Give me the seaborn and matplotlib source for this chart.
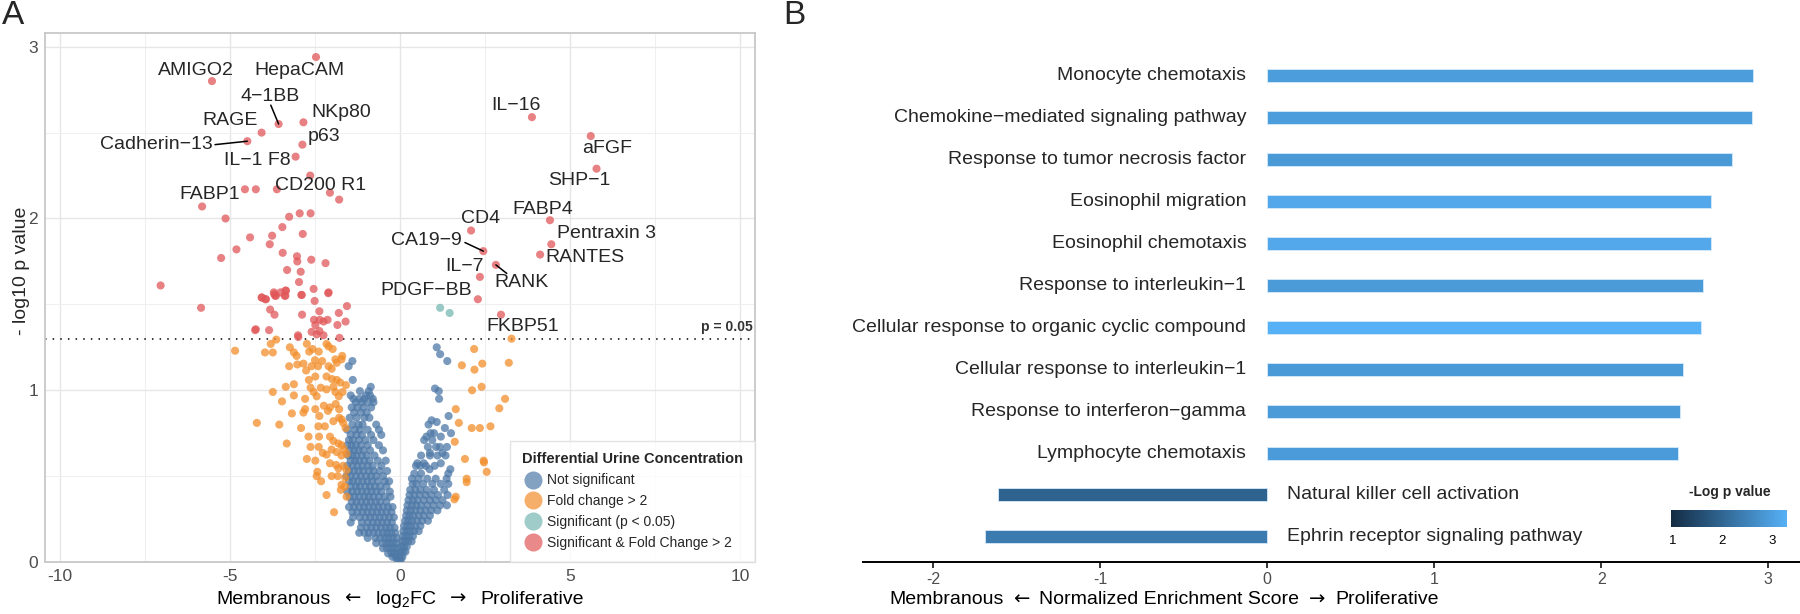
"""
 volcano + enrichment panels
"""
import numpy as np
import pandas as pd
import matplotlib
matplotlib.use("Agg")
import matplotlib.pyplot as plt
import seaborn as sns
from matplotlib.lines import Line2D
from matplotlib.colors import LinearSegmentedColormap, Normalize
from matplotlib.cm import ScalarMappable
from matplotlib.offsetbox import TextArea, HPacker, AnchoredOffsetbox

sns.set_theme(style="white")
plt.rcParams['font.family'] = ['Liberation Sans', 'DejaVu Sans']
plt.rcParams['mathtext.fontset'] = 'custom'
plt.rcParams['mathtext.rm'] = 'Liberation Sans'
plt.rcParams['mathtext.default'] = 'regular'

# ---- panel A data (log2FC, -log10 p) ----
label_names = ['HepaCAM', 'AMIGO2', '4−1BB', 'NKp80', 'RAGE', 'Cadherin−13', 'p63',
               'IL−1 F8', 'CD200 R1', 'FABP1', 'IL−16', 'aFGF', 'SHP−1', 'FABP4',
               'CD4', 'Pentraxin 3', 'RANTES', 'CA19−9', 'RANK', 'IL−7', 'PDGF−BB', 'FKBP51']
label_fc = [-2.47, -5.53, -3.57, -2.84, -4.07, -4.49, -2.87, -3.07, -2.06, -5.82, 3.88,
            5.61, 5.78, 4.41, 2.09, 4.45, 4.12, 2.45, 2.82, 2.35, 2.29, 2.97]
label_p = [2.94, 2.80, 2.55, 2.56, 2.50, 2.45, 2.43, 2.36, 2.15, 2.07, 2.59,
           2.48, 2.29, 1.99, 1.93, 1.85, 1.79, 1.81, 1.73, 1.66, 1.53, 1.44]

red_fc = [-2.64, -4.56, -4.24, -3.62, -1.79, -5.13, -3.26, -2.95, -2.63, -3.46, -4.41,
          -3.76, -2.86, -4.81, -3.83, -5.26, -3.45, -3.03, -3.02, -2.61, -2.19, -3.32,
          -2.92, -7.04, -2.97, -2.54, -2.10, -3.71, -3.51, -3.37, -2.90, -4.06, -3.96,
          -3.67, -3.37, -5.85, -4.07, -3.94, -3.70, -3.65, -3.39, -3.35, -2.89, -2.11,
          -2.51, -3.82, -3.69, -2.88, -2.37, -1.56, -1.80, -2.53, -2.36, -2.25, -2.13,
          -2.49, -1.60, -1.84, -4.26, -4.24, -3.85, -3.00, -2.60, -2.37, -2.25, -1.78,
          -2.99, -2.45]
red_p = [2.25, 2.17, 2.17, 2.17, 2.11, 2.00, 2.01, 2.03, 2.03, 1.95, 1.89,
         1.90, 1.91, 1.82, 1.85, 1.77, 1.80, 1.78, 1.75, 1.76, 1.74, 1.70,
         1.69, 1.61, 1.63, 1.59, 1.57, 1.57, 1.57, 1.58, 1.555, 1.54, 1.53,
         1.55, 1.55, 1.48, 1.54, 1.53, 1.56, 1.55, 1.55, 1.58, 1.555, 1.565,
         1.52, 1.47, 1.44, 1.44, 1.46, 1.49, 1.45, 1.41, 1.41, 1.40, 1.41,
         1.38, 1.40, 1.38, 1.35, 1.355, 1.35, 1.32, 1.34, 1.345, 1.32, 1.305,
         1.31, 1.325]

teal_fc = [1.18, 1.46]
teal_p = [1.48, 1.45]

orange_fc = [-4.85, -3.80, -3.64, -3.97, -3.74, -3.24, -3.12, -3.04, -2.74, -2.67, -2.57,
             -2.39, -2.16, -2.10, -1.98, -3.26, -3.02, -2.84, -2.76, -2.60, -2.50, -2.41,
             -2.29, -2.10, -2.01, -1.90, -1.86, -1.70, -1.72, -2.49, -2.68, -2.16, -2.00,
             -1.86, -1.76, -1.59, -3.12, -3.36, -3.74, -2.63, -2.54, -2.33, -2.16, -1.96,
             -1.90, -1.80, -1.69, -3.12, -2.45, -3.47, -2.79, -2.24, -2.06, -1.89, -1.79,
             -3.18, -2.84, -2.79, -2.49, -2.37, -2.12, -1.96, -1.79, -1.72, -1.67, -4.21,
             -3.55, -2.91, -2.40, -2.21, -1.60, -2.69, -2.38, -2.06, -1.96, -1.81, -1.72,
             -1.65, -3.33, -2.63, -2.39, -2.27, -2.16, -2.01, -1.86, -1.72, -1.57, -2.74,
             -2.49, -2.06, -1.88, -1.81, -1.67, -1.57, -2.43, -2.45, -2.01, -1.83, -1.61,
             -2.32, -1.72, -1.74, -1.62, -2.16, -1.57, -1.94,
             3.28, 2.18, 2.42, 3.20, 1.82, 2.19, 2.40, 2.12, 3.09, 2.92, 1.64, 1.73,
             2.11, 2.35, 2.66, 1.61, 1.91, 2.46, 2.47, 2.55, 1.96, 1.96, 1.64, 1.60]
orange_p = [1.23, 1.27, 1.295, 1.22, 1.22, 1.25, 1.22, 1.20, 1.27, 1.225, 1.24,
            1.225, 1.27, 1.255, 1.24, 1.14, 1.15, 1.155, 1.115, 1.14, 1.175, 1.14,
            1.17, 1.14, 1.125, 1.18, 1.16, 1.20, 1.18, 1.08, 1.06, 1.08, 1.065,
            1.06, 1.045, 1.03, 1.035, 1.02, 0.99, 1.015, 0.99, 1.015, 1.005, 1.02,
            0.99, 0.965, 0.99, 0.97, 0.965, 0.935, 0.95, 0.91, 0.90, 0.92, 0.89,
            0.865, 0.87, 0.89, 0.89, 0.85, 0.88, 0.82, 0.84, 0.83, 0.81, 0.81,
            0.80, 0.78, 0.79, 0.79, 0.78, 0.73, 0.73, 0.73, 0.705, 0.69, 0.68,
            0.655, 0.69, 0.67, 0.67, 0.635, 0.625, 0.655, 0.64, 0.62, 0.63, 0.60,
            0.59, 0.575, 0.565, 0.545, 0.56, 0.535, 0.525, 0.50, 0.50, 0.50, 0.49,
            0.47, 0.45, 0.42, 0.44, 0.39, 0.38, 0.29,
            1.30, 1.24, 1.155, 1.16, 1.145, 1.12, 1.02, 1.00, 0.95, 0.895, 0.89, 0.81,
            0.78, 0.78, 0.79, 0.70, 0.60, 0.59, 0.58, 0.525, 0.485, 0.465, 0.38, 0.365]

# not significant points, read row by row: (-log10 p, [log2FC ...])
blue_rows = [
    (1.25, [1.08]), (1.21, [1.18]), (1.17, [-1.40, 1.39]), (1.14, [-1.51]),
    (1.06, [-1.39]), (1.02, [-0.86]), (1.01, [1.03]), (0.995, [-1.18, -0.92, 1.14]),
    (0.97, [-1.45, -1.00, -0.88]), (0.95, [-1.37, -1.20, -1.05, -0.80, 1.15]),
    (0.93, [-1.30, -1.12, -0.95, -0.78]), (0.90, [-1.42, -1.25, -1.08, -0.85]),
    (0.87, [-1.35, -1.15, -0.98]), (0.85, [1.43]),
    (0.84, [-1.48, -1.28, -1.05, -0.90]), (0.825, [0.93]), (0.815, [1.08]),
    (0.80, [-1.40, -1.22, -1.10, -0.70, 0.84]), (0.78, [1.32]),
    (0.77, [-1.55, -1.33, -1.18, -0.95, -0.62]), (0.75, [0.90, 1.00, 1.50]),
    (0.74, [-1.45, -1.28, -1.12, -0.85, -0.55]), (0.73, [0.78, 1.20]),
    (0.71, [-1.50, -1.38, -1.20, -1.02, -0.78, 0.71, 0.95]),
    (0.68, [-1.55, -1.42, -1.30, -1.15, -0.95, -0.62]),
    (0.67, [0.82, 1.06, 1.17, 1.38]),
    (0.65, [-1.48, -1.35, -1.22, -1.08, -0.88, -0.50]), (0.635, [0.88, 1.25]),
    (0.62, [-1.52, -1.40, -1.28, -1.12, -0.98, -0.75, 0.62, 0.88, 1.10, 1.34]),
    (0.59, [-1.45, -1.32, -1.20, -1.05, -0.90, -0.65, -0.42]),
    (0.575, [0.51, 0.70, 1.20]),
    (0.56, [-1.55, -1.40, -1.25, -1.10, -0.95, -0.80, -0.55, 0.47, 0.59, 0.76, 1.02]),
    (0.54, [0.87, 1.48]),
    (0.53, [-1.50, -1.36, -1.22, -1.08, -0.92, -0.78, -0.60, -0.38]),
    (0.515, [0.42, 0.62, 1.42]),
    (0.50, [-1.58, -1.45, -1.30, -1.15, -1.00, -0.85, -0.70, -0.50]),
    (0.485, [0.35, 0.55, 0.80, 1.05, 1.37]),
    (0.47, [-1.50, -1.38, -1.24, -1.10, -0.96, -0.82, -0.66, -0.45, -0.32]),
    (0.455, [0.37, 0.48, 0.68, 0.95, 1.20, 1.42]),
    (0.44, [-1.45, -1.30, -1.18, -1.02, -0.88, -0.74, -0.58, -0.40]),
    (0.42, [0.30, 0.45, 0.60, 0.78, 1.00, 1.30]),
    (0.41, [-1.55, -1.40, -1.26, -1.12, -0.98, -0.84, -0.70, -0.55, -0.30]),
    (0.39, [0.28, 0.42, 0.58, 0.75, 0.92, 1.12, 1.40]),
    (0.38, [-1.48, -1.34, -1.20, -1.05, -0.92, -0.78, -0.62, -0.45, -0.28]),
    (0.36, [0.25, 0.38, 0.52, 0.70, 0.88, 1.05, 1.25]),
    (0.35, [-1.42, -1.28, -1.14, -1.00, -0.86, -0.72, -0.58, -0.40]),
    (0.33, [0.22, 0.35, 0.48, 0.62, 0.80, 0.98, 1.18, 1.38]),
    (0.32, [-1.50, -1.35, -1.20, -1.06, -0.92, -0.78, -0.64, -0.50, -0.35, -0.22]),
    (0.30, [0.20, 0.32, 0.45, 0.60, 0.75, 0.92, 1.10]),
    (0.29, [-1.40, -1.25, -1.10, -0.96, -0.82, -0.68, -0.54, -0.40, -0.25]),
    (0.27, [0.18, 0.28, 0.40, 0.55, 0.70, 0.88]),
    (0.26, [-1.38, -1.18, -1.02, -0.88, -0.74, -0.60, -0.46, -0.32, -0.18]),
    (0.24, [0.15, 0.25, 0.36, 0.50, 0.65, 0.82]),
    (0.23, [-1.45, -1.12, -0.95, -0.80, -0.66, -0.52, -0.38, -0.24]),
    (0.21, [0.12, 0.22, 0.32, 0.45, 0.60]),
    (0.20, [-1.15, -0.98, -0.84, -0.70, -0.56, -0.42, -0.30, -0.16]),
    (0.18, [0.10, 0.20, 0.30, 0.42, 0.55]),
    (0.17, [-1.20, -1.05, -0.92, -0.78, -0.64, -0.50, -0.38, -0.26, -0.14]),
    (0.15, [0.08, 0.17, 0.27, 0.38]),
    (0.14, [-0.95, -0.72, -0.58, -0.45, -0.34, -0.22, -0.10]),
    (0.12, [0.06, 0.14, 0.24, 0.34]),
    (0.11, [-0.70, -0.52, -0.40, -0.30, -0.20, -0.10]),
    (0.09, [0.05, 0.12, 0.20]),
    (0.08, [-0.50, -0.38, -0.28, -0.18, -0.08]),
    (0.06, [0.03, 0.10, 0.16]),
    (0.05, [-0.35, -0.25, -0.16, -0.08]),
    (0.03, [-0.22, -0.12, -0.05, 0.02, 0.07]),
    (0.01, [-0.08, -0.02, 0.02]),
]

# ---- panel B data ----
go_terms = ['Monocyte chemotaxis', 'Chemokine−mediated signaling pathway',
            'Response to tumor necrosis factor', 'Eosinophil migration',
            'Eosinophil chemotaxis', 'Response to interleukin−1',
            'Cellular response to organic cyclic compound',
            'Cellular response to interleukin−1', 'Response to interferon−gamma',
            'Lymphocyte chemotaxis', 'Natural killer cell activation',
            'Ephrin receptor signaling pathway']
go_nes = [2.91, 2.90, 2.78, 2.66, 2.66, 2.61, 2.60, 2.49, 2.47, 2.46, -1.61, -1.69]
go_logp = [2.96, 2.95, 2.90, 3.15, 3.15, 2.92, 3.31, 2.90, 2.92, 2.93, 1.95, 2.37]

groups = ['Not significant', 'Fold change > 2', 'Significant (p < 0.05)',
          'Significant & Fold Change > 2']
palette = dict(zip(groups, ['#4E79A7', '#F28E2B', '#76B7B2', '#E15759']))

blue_fc = [x for y, xs in blue_rows for x in xs]
blue_p = [y for y, xs in blue_rows for x in xs]
volc = pd.concat([
    pd.DataFrame({'fc': blue_fc, 'p': blue_p, 'group': groups[0]}),
    pd.DataFrame({'fc': orange_fc, 'p': orange_p, 'group': groups[1]}),
    pd.DataFrame({'fc': teal_fc, 'p': teal_p, 'group': groups[2]}),
    pd.DataFrame({'fc': red_fc + label_fc, 'p': red_p + label_p, 'group': groups[3]}),
], ignore_index=True)

W, H = 1800, 614
fig = plt.figure(figsize=(18, 6.14), dpi=100)


def arrow_title(parts, x, y, sep=7):
    # axis title built from pieces so the arrows can come from DejaVu Sans
    boxes = []
    for txt in parts:
        fam = ['DejaVu Sans'] if txt in ('←', '→') else ['Liberation Sans']
        boxes.append(TextArea(txt, textprops=dict(fontsize=14, family=fam, color='black')))
    pack = HPacker(children=boxes, align='baseline', pad=0, sep=sep)
    box = AnchoredOffsetbox(loc='center', child=pack, pad=0, borderpad=0, frameon=False,
                            bbox_to_anchor=(x / W, 1 - y / H),
                            bbox_transform=fig.transFigure)
    fig.add_artist(box)


# ================= A =================
axA = fig.add_axes([45 / W, 1 - 562 / H, 710 / W, 529 / H])
sns.scatterplot(data=volc, x='fc', y='p', hue='group', palette=palette, s=34,
                alpha=0.75, linewidth=0, legend=False, ax=axA, zorder=3)
axA.set_xlim(-10.44, 10.44)
axA.set_ylim(0, 3.08)
axA.set_xticks([-10, -5, 0, 5, 10])
axA.set_xticks([-7.5, -2.5, 2.5, 7.5], minor=True)
axA.set_yticks([0, 1, 2, 3])
axA.set_yticks([0.5, 1.5, 2.5], minor=True)
axA.set_xticklabels(['-10', '-5', '0', '5', '10'])
axA.grid(which='major', color='#E6E6E6', lw=1.0)
axA.grid(which='minor', color='#EFEFEF', lw=0.7)
axA.set_axisbelow(True)
for sp in axA.spines.values():
    sp.set_color('#C8C8C8')
    sp.set_linewidth(1.3)
axA.tick_params(which='major', length=3, color='#B3B3B3', labelcolor='#4D4D4D',
                labelsize=12.5, pad=2)
axA.tick_params(which='minor', length=0)

axA.axhline(1.301, color='black', ls=(0, (1, 4)), lw=1.1, zorder=2)
axA.text(10.38, 1.325, 'p = 0.05', ha='right', va='bottom', fontsize=10,
         fontweight='bold', color='#333333')

label_pos = {
    'AMIGO2': (-6.01, 2.86), 'HepaCAM': (-2.96, 2.86), '4−1BB': (-3.82, 2.71),
    'NKp80': (-1.74, 2.62), 'RAGE': (-5.0, 2.57), 'Cadherin−13': (-7.16, 2.43),
    'p63': (-2.24, 2.48), 'IL−1 F8': (-4.20, 2.34), 'CD200 R1': (-2.35, 2.19),
    'FABP1': (-5.61, 2.14), 'IL−16': (3.40, 2.66), 'aFGF': (6.10, 2.41),
    'SHP−1': (5.26, 2.22), 'FABP4': (4.19, 2.05), 'CD4': (2.37, 2.0),
    'Pentraxin 3': (6.08, 1.91), 'RANTES': (5.44, 1.77), 'CA19−9': (0.78, 1.87),
    'IL−7': (1.91, 1.72), 'RANK': (3.58, 1.625), 'PDGF−BB': (0.78, 1.58),
    'FKBP51': (3.61, 1.37),
}
for name in label_names:
    tx, ty = label_pos[name]
    axA.text(tx, ty, name, ha='center', va='center', fontsize=14, zorder=5)
segs = {'4−1BB': (-3.80, 2.66), 'Cadherin−13': (-5.44, 2.43),
        'CA19−9': (1.91, 1.86), 'RANK': (3.14, 1.68)}
for name, (sx, sy) in segs.items():
    i = label_names.index(name)
    axA.plot([sx, label_fc[i]], [sy, label_p[i]], color='black', lw=1.1, zorder=4)

axA.set_xlabel('')
arrow_title(['Membranous', '←', 'log$_2$FC', '→', 'Proliferative'], 400, 599, sep=10)
axA.set_ylabel('- log10 p value', fontsize=14)
axA.yaxis.set_label_coords(-(45 - 21) / 710, 0.55)
axA.yaxis.label.set_va('center')

handles = [Line2D([], [], marker='o', ls='', markersize=13, markerfacecolor=palette[g],
                  markeredgewidth=0, alpha=0.7) for g in groups]
leg = axA.legend(handles, groups, title='Differential Urine Concentration',
                 loc='lower right', bbox_to_anchor=(1, 0), borderaxespad=0,
                 frameon=True, fancybox=False, fontsize=10,
                 title_fontproperties={'weight': 'bold', 'size': 10.5}, alignment='left',
                 handletextpad=0.3, labelspacing=0.5, borderpad=0.85, handlelength=1.5)
leg.get_frame().set_edgecolor('#DDDDDD')
leg.get_frame().set_linewidth(1.0)
leg.set_zorder(6)

# ================= B =================
cmap = LinearSegmentedColormap.from_list('ggblue', ['#132B43', '#56B1F7'])
norm = Normalize(vmin=0.96, vmax=3.31)
go = pd.DataFrame({'term': go_terms, 'nes': go_nes, 'logp': go_logp})
bar_colors = [cmap(norm(v)) for v in go_logp]

axB = fig.add_axes([863 / W, 1 - 562 / H, 937 / W, 562 / H])
sns.barplot(data=go, x='nes', y='term', hue='term', palette=bar_colors, width=0.31,
            orient='h', saturation=1, legend=False, edgecolor='#D6EAFB', linewidth=0.6,
            ax=axB)
axB.set_xlim(-2.42, 3.19)
axB.set_ylim(11.6, -1.81)
for i, (t, v) in enumerate(zip(go_terms, go_nes)):
    if v >= 0:
        axB.text(-0.125, i, t, ha='right', va='center', fontsize=14)
    else:
        axB.text(0.12, i, t, ha='left', va='center', fontsize=14)

for s in ['left', 'top', 'right']:
    axB.spines[s].set_visible(False)
axB.spines['bottom'].set_color('black')
axB.spines['bottom'].set_linewidth(1.4)
axB.set_yticks([])
axB.set_ylabel('')
axB.set_xticks([-2, -1, 0, 1, 2, 3])
axB.set_xticklabels(['-2', '-1', '0', '1', '2', '3'])
axB.tick_params(axis='x', length=4, width=1.1, color='black', labelcolor='#4D4D4D',
                labelsize=11.5, pad=3, bottom=True)
axB.set_xlabel('')
arrow_title(['Membranous', '←', 'Normalized Enrichment Score', '→', 'Proliferative'],
            1164, 599, sep=7)

cax = fig.add_axes([1670.7 / W, 1 - 527 / H, 116.6 / W, 17 / H])
cb = fig.colorbar(ScalarMappable(norm=norm, cmap=cmap), cax=cax, orientation='horizontal')
cb.outline.set_visible(False)
cb.set_ticks([1, 2, 3])
cax.tick_params(axis='x', direction='in', length=3.5, width=1, color='white',
                labelsize=9.5, labelcolor='black', pad=6, top=True)
fig.text(1730 / W, 1 - 492 / H, '-Log p value', ha='center', va='center',
         fontsize=10, fontweight='bold')

fig.text(2 / W, 1 - 15 / H, 'A', fontsize=24, ha='left', va='center')
fig.text(783 / W, 1 - 15 / H, 'B', fontsize=24, ha='left', va='center')

fig.savefig('out.png', dpi=100)
